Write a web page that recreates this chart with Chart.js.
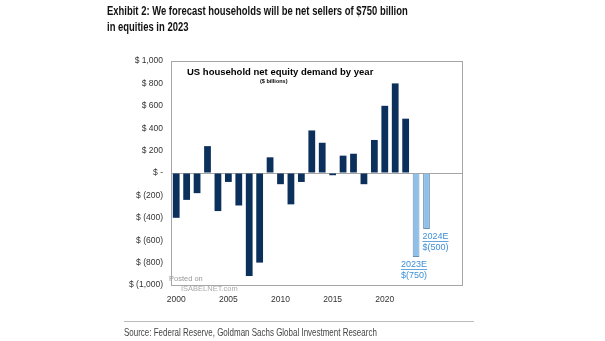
<!DOCTYPE html>
<html>
<head>
<meta charset="utf-8">
<script src="https://cdn.jsdelivr.net/npm/chart.js@4.4.0/dist/chart.umd.min.js"></script>
<style>
  body { margin: 0; background: #fff; }
  #wrap { position: relative; width: 605px; height: 341px; overflow: hidden; }
  #chart { position: absolute; left: 0; top: 0; }
  .head { position: absolute; left: 107px; top: 3px; font-family: "Liberation Sans", Arial, sans-serif; font-weight: bold; font-size: 13.5px; line-height: 16px; color: #111; white-space: nowrap; transform: scaleX(0.7); transform-origin: left top; }
  .rule { position: absolute; left: 124px; top: 321px; width: 350px; height: 1px; background: #bbb; }
  .src { position: absolute; left: 124px; top: 326px; font-family: "Liberation Sans", Arial, sans-serif; font-size: 10.5px; color: #444; white-space: nowrap; transform: scaleX(0.76); transform-origin: left top; }
</style>
</head>
<body>
<div id="wrap">
  <canvas id="chart" width="605" height="341"></canvas>
  <div class="head">Exhibit 2: We forecast households will be net sellers of $750 billion<br>in equities in 2023</div>
  <div class="rule"></div>
  <div class="src">Source: Federal Reserve, Goldman Sachs Global Investment Research</div>
</div>
<script>
const years = ['2000','2001','2002','2003','2004','2005','2006','2007','2008','2009','2010','2011','2012','2013',
  '2014','2015','2016','2017','2018','2019','2020','2021','2022','2023','2024','2025','2026','2027'];
// $ billions, actuals
const actual = [-400, -240, -180, 240, -340, -80, -290, -920, -800, 140, -100, -280, -80, 380,
  270, -20, 155, 172, -100, 295, 600, 800, 485, null, null, null, null, null];
// Goldman Sachs estimates
const estimate = [null, null, null, null, null, null, null, null, null, null, null, null, null, null,
  null, null, null, null, null, null, null, null, null, -750, -500, null, null, null];
const estimateLabels = { 23: ['2023E', '$(750)'], 24: ['2024E', '$(500)'] };
const yTicks = [-1000, -800, -600, -400, -200, 0, 200, 400, 600, 800, 1000];
const xTickYears = ['2000', '2005', '2010', '2015', '2020'];

function money(v) {
  if (v === 0) return '$ -';
  const s = Math.abs(v).toLocaleString('en-US');
  return v < 0 ? '$ (' + s + ')' : '$ ' + s;
}

const frame = {
  id: 'frame',
  afterDraw(chart) {
    const { ctx, chartArea: a } = chart;
    ctx.save();
    ctx.strokeStyle = '#a6a6a6';
    ctx.lineWidth = 1;
    ctx.strokeRect(a.left + 0.5, a.top + 0.5, a.right - a.left - 1, a.bottom - a.top);
    ctx.fillStyle = '#000';
    ctx.font = 'bold 9.5px "Liberation Sans", Arial, sans-serif';
    ctx.textBaseline = 'middle';
    ctx.fillText('US household net equity demand by year', a.left + 16, a.top + 11);
    ctx.font = 'bold 5.5px "Liberation Sans", Arial, sans-serif';
    ctx.fillText('($ billions)', a.left + 89, a.top + 20);
    // watermark
    ctx.fillStyle = '#999';
    ctx.font = '7.5px "Liberation Sans", Arial, sans-serif';
    ctx.fillText('Posted on', a.left - 2, a.bottom - 6);
    ctx.font = '7.5px "Liberation Sans", Arial, sans-serif';
    ctx.fillStyle = '#aaa';
    ctx.fillText('ISABELNET.com', a.left + 10, a.bottom + 4);
    // estimate labels
    const meta = chart.getDatasetMeta(1);
    ctx.fillStyle = '#3d8fd8';
    ctx.font = '9px "Liberation Sans", Arial, sans-serif';
    ctx.textBaseline = 'top';
    Object.keys(estimateLabels).forEach(i => {
      const bar = meta.data[i];
      const lines = estimateLabels[i];
      const x = i == 23 ? bar.x - 15 : bar.x - 4;
      const y = bar.y + 3;
      ctx.fillText(lines[0], x, y);
      const w = ctx.measureText(lines[0]).width;
      ctx.fillRect(x, y + 9, w, 0.8);
      ctx.fillText(lines[1], x, y + 11);
    });
    ctx.restore();
  }
};

new Chart(document.getElementById('chart'), {
  type: 'bar',
  data: {
    labels: years,
    datasets: [{
      data: actual,
      backgroundColor: '#0c305c',
      borderColor: '#0c305c',
      borderWidth: 0,
      barPercentage: 0.65,
      categoryPercentage: 1,
      grouped: false
    }, {
      data: estimate,
      backgroundColor: '#8fc0ea',
      borderColor: '#6c8fb3',
      borderWidth: 1,
      barPercentage: 0.65,
      categoryPercentage: 1,
      grouped: false
    }]
  },
  options: {
    responsive: false,
    animation: false,
    layout: { padding: { left: 111, right: 142, top: 61, bottom: 36 } },
    plugins: { legend: { display: false }, tooltip: { enabled: false } },
    scales: {
      x: {
        afterFit(s) { s.height = 20; },
        grid: { display: false },
        border: { display: false },
        ticks: {
          autoSkip: false, maxRotation: 0, color: '#333', padding: 2,
          font: { size: 8.5, family: '"Liberation Sans", Arial, sans-serif' },
          callback(v) { const l = years[v]; return xTickYears.includes(l) ? l : ''; }
        }
      },
      y: {
        min: -1000, max: 1000,
        afterFit(s) { s.width = 60; },
        afterBuildTicks(s) { s.ticks = yTicks.map(v => ({ value: v })); },
        border: { display: false },
        grid: {
          drawTicks: false,
          color: c => c.tick && c.tick.value === 0 ? '#a6a6a6' : 'rgba(0,0,0,0)'
        },
        ticks: {
          color: '#333', padding: 8,
          font: { size: 8.5, family: '"Liberation Sans", Arial, sans-serif' },
          callback: v => money(v)
        }
      }
    }
  },
  plugins: [frame]
});
</script>
</body>
</html>
